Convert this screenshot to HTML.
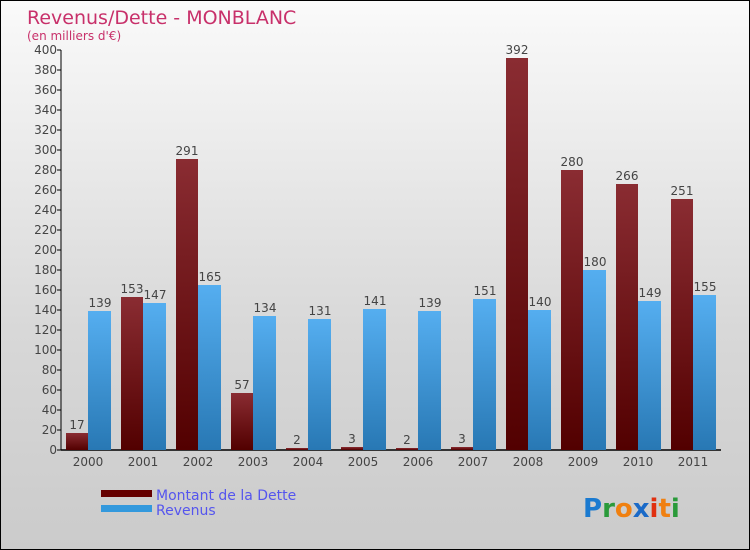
<!DOCTYPE html>
<html><head><meta charset="utf-8"><style>
body{margin:0;}
#wrap{position:relative;width:748px;height:548px;border:1px solid #000;background:linear-gradient(#fafafa,#d8d8d8 60%,#cbcbcb);font-family:"DejaVu Sans","Liberation Sans",sans-serif;overflow:hidden}
</style></head><body>
<div id="wrap">
<svg id="chart" width="748" height="548">
<defs>
<linearGradient id="gd" x1="0" y1="0" x2="0" y2="1"><stop offset="0" stop-color="#8a2c32"/><stop offset="1" stop-color="#520000"/></linearGradient>
<linearGradient id="gr" x1="0" y1="0" x2="0" y2="1"><stop offset="0" stop-color="#55aef0"/><stop offset="1" stop-color="#2878b4"/></linearGradient>
</defs>
<text x="26" y="23" font-size="19" fill="#c8306a">Revenus/Dette - MONBLANC</text>
<text x="26" y="39" font-size="12" fill="#c8306a">(en milliers d'€)</text>
<g id="axes"></g><g id="bars"></g>
<g>
<rect x="100" y="489" width="51" height="7" fill="#650000"/>
<text x="155" y="499" font-size="14" fill="#5555ee">Montant de la Dette</text>
<rect x="100" y="504" width="51" height="7" fill="#3399dd"/>
<text x="155" y="514" font-size="14" fill="#5555ee">Revenus</text>
</g>
<g font-size="26" font-weight="bold">
<text x="582" y="516"><tspan fill="#1a7ad0">P</tspan><tspan fill="#2a9a3a">r</tspan><tspan fill="#f08010">o</tspan><tspan fill="#1a6ac8">x</tspan><tspan fill="#e03010">i</tspan><tspan fill="#f08010">t</tspan><tspan fill="#2a9a3a">i</tspan></text>
</g>
</svg>
</div>
<script>
const years=["2000","2001","2002","2003","2004","2005","2006","2007","2008","2009","2010","2011"];
const dette=[17,153,291,57,2,3,2,3,392,280,266,251];
const revenus=[139,147,165,134,131,141,139,151,140,180,149,155];
const yTicks=[0,20,40,60,80,100,120,140,160,180,200,220,240,260,280,300,320,340,360,380,400];
const NS="http://www.w3.org/2000/svg";
const x0=60,y0=449,groupW=55;
function y(v){return y0-v*(400/400);}
function gx(i){return x0+groupW*i;}
function mk(tag,attrs,parent,txt){const e=document.createElementNS(NS,tag);for(const k in attrs)e.setAttribute(k,attrs[k]);if(txt!==undefined)e.textContent=txt;parent.appendChild(e);return e;}
const axes=document.getElementById('axes'),bars=document.getElementById('bars');
let a=mk('line',{x1:x0,y1:y(400),x2:x0,y2:y0,stroke:'#000'},axes);


a=mk('line',{x1:x0,y1:y0,x2:gx(12),y2:y0,stroke:'#000','stroke-width':1.5},axes);


yTicks.forEach(t=>{
 mk('line',{x1:x0-4,y1:y(t),x2:x0,y2:y(t),stroke:'#000'},axes);
 const l=mk('text',{x:x0-4,y:y(t)+4,'font-size':12,fill:'#444','text-anchor':'end'},axes,t);
 
 
});
years.forEach((yr,i)=>{
 const s=gx(i);
 const l=mk('text',{x:s+27,y:y0+16,'font-size':12,fill:'#444','text-anchor':'middle'},axes,yr);
 
 
 const bd=mk('rect',{x:s+5,y:y(dette[i]),width:22,height:y0-y(dette[i]),fill:'url(#gd)'},bars);
 
 
 const td=mk('text',{x:s+16,y:y(dette[i])-4,'font-size':12,fill:'#444','text-anchor':'middle'},bars,dette[i]);
 
 
 const br=mk('rect',{x:s+27,y:y(revenus[i]),width:23,height:y0-y(revenus[i]),fill:'url(#gr)'},bars);
 
 
 const tr=mk('text',{x:s+39,y:y(revenus[i])-4,'font-size':12,fill:'#444','text-anchor':'middle'},bars,revenus[i]);
 
 
});
</script>
</body></html>
